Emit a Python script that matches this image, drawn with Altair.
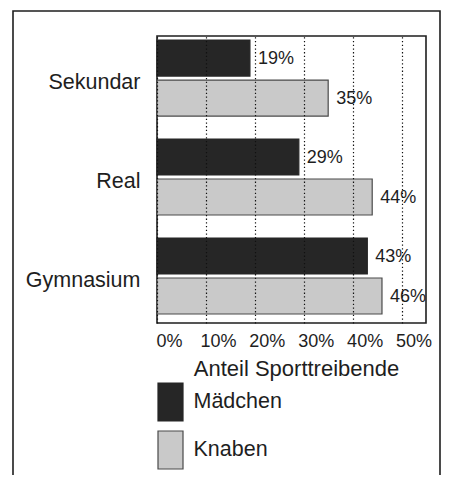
import altair as alt
import pandas as pd

schools = ["Sekundar", "Real", "Gymnasium"]
groups = ["Mädchen", "Knaben"]
maedchen = [19, 29, 43]
knaben = [35, 44, 46]
ticks = [0, 10, 20, 30, 40, 50]

rows = []
for i, s in enumerate(schools):
    rows.append({"Schule": s, "Gruppe": "Mädchen", "Anteil": maedchen[i]})
    rows.append({"Schule": s, "Gruppe": "Knaben", "Anteil": knaben[i]})
df = pd.DataFrame(rows)

FONT = "Liberation Sans"
TXT = "#1e1e1e"

xscale = alt.Scale(domain=[0, 55], nice=False, zero=True)
yscale = alt.Scale(domain=schools, paddingInner=0.232, paddingOuter=0.066, align=0.31)
yoff = alt.YOffset("Gruppe:N", sort=groups,
                   scale=alt.Scale(domain=groups, paddingInner=0.1, paddingOuter=0))

rect_path = "M-0.658,-1 h1.316 v2 h-1.316 Z"

bars = alt.Chart(df).mark_bar(strokeWidth=1.2).encode(
    x=alt.X("Anteil:Q", scale=xscale,
            axis=alt.Axis(values=ticks, labelExpr="datum.value + '%'",
                          title="Anteil Sporttreibende", grid=True,
                          gridDash=[1.3, 2.4], gridColor="#111", gridWidth=1.2,
                          domain=False, ticks=False, labelAlign="center",
                          labelOffset=12, labelPadding=9, labelFontSize=18,
                          labelColor=TXT, labelFont=FONT,
                          titleFontSize=22, titleFontWeight="normal", titleFont=FONT,
                          titleColor=TXT, titleX=139, titleY=52,
                          titleBaseline="alphabetic", titleAlign="center",
                          zindex=1)),
    y=alt.Y("Schule:N", sort=schools, scale=yscale,
            axis=alt.Axis(title=None, domain=False, ticks=False, labelPadding=17,
                          labelFontSize=21.5, labelColor=TXT, labelFont=FONT,
                          labelOffset=5, labelLimit=300)),
    yOffset=yoff,
    color=alt.Color("Gruppe:N", sort=groups,
                    scale=alt.Scale(domain=groups, range=["#262626", "#c9c9c9"]),
                    legend=alt.Legend(title=None, orient="none", legendX=-6.5, legendY=346,
                                      symbolType=rect_path, symbolSize=1444,
                                      symbolStrokeWidth=1.2, symbolStrokeColor="#444",
                                      labelFontSize=21.5, labelFont=FONT, labelColor=TXT,
                                      labelOffset=3, rowPadding=4, padding=0,
                                      symbolOpacity=1)),
    stroke=alt.Stroke("Gruppe:N", sort=groups,
                      scale=alt.Scale(domain=groups, range=["#262626", "#4a4a4a"]),
                      legend=None),
)

labels = alt.Chart(df).transform_calculate(lbl="datum.Anteil + '%'").mark_text(
    align="left", baseline="middle", dx=8, dy=1,
    fontSize=18, font=FONT, color=TXT).encode(
    x=alt.X("Anteil:Q", scale=xscale),
    y=alt.Y("Schule:N", sort=schools, scale=yscale),
    yOffset=yoff,
    text="lbl:N",
)

frame = alt.Chart(pd.DataFrame({"a": [0]})).mark_rect(
    fill=None, stroke="#1e1e1e", strokeWidth=1.6, clip=False
).encode(x=alt.value(-144), x2=alt.value(283), y=alt.value(-25), y2=alt.value(470))

chart = alt.layer(frame, bars, labels).properties(
    width=269, height=287,
    autosize=alt.AutoSizeParams(type="none"),
    padding={"left": 149, "top": 28, "right": 15, "bottom": 152},
    background="white",
).configure_view(stroke="#1e1e1e", strokeWidth=1.6)

chart.save("out.html", embed_options={"renderer": "svg", "actions": False})
